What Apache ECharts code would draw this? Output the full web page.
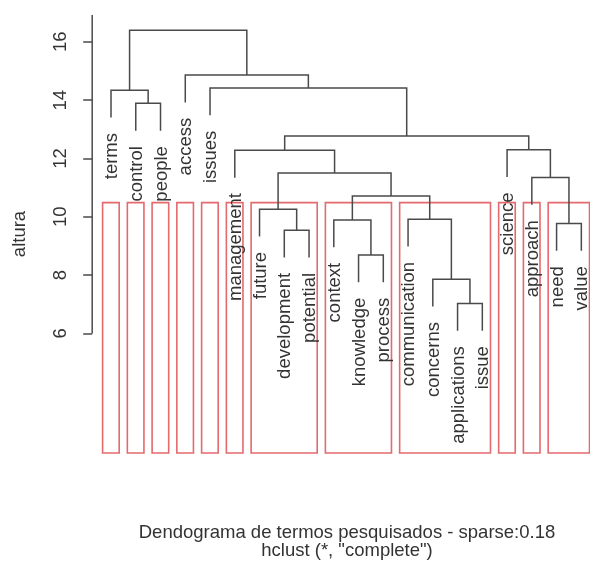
<!DOCTYPE html>
<html><head><meta charset="utf-8">
<script src="https://cdn.jsdelivr.net/npm/echarts@6/dist/echarts.min.js"></script>
<style>html,body{margin:0;padding:0;background:#fff;}#c{width:590px;height:564px;}</style>
</head><body><div id="c"></div>
<script>
// ---- data ----
const leafLabels = ['terms','control','people','access','issues','management','future','development','potential','context','knowledge','process','communication','concerns','applications','issue','science','approach','need','value'];
// hclust merge convention: negative = leaf (1-based), positive = earlier merge (1-based)
const mergeLeft   = [-15, -14, -11, -8, -19, -10, -13, -7, 6, -18, 8, -6, -17, 12, -2, -1, -5, -4, 16];
const mergeRight  = [-16,   1, -12, -9, -20,   3,   2,  4, 7,   5, 9, 11,  10, 13, -3, 15, 14, 17, 18];
const mergeHeight = [7.03, 7.86, 8.69, 9.54, 9.77, 9.89, 9.92, 10.26, 10.71, 11.35, 11.50, 12.28, 12.30, 12.77, 13.89, 14.34, 14.42, 14.86, 16.40];
const clusterCount = 12;
const yTicks = [6, 8, 10, 12, 14, 16];
const yTickLabels = ['6', '8', '10', '12', '14', '16'];
const xTitle = 'Dendograma de termos pesquisados - sparse:0.18';
const subTitle = 'hclust (*, "complete")';
const yTitle = 'altura';

// ---- layout constants ----
const FONT_FAMILY = '"Liberation Sans", Arial, Helvetica, sans-serif';
const FS = 18.5;
const X_MIN = 0.24, X_MAX = 20.35;
const Y_MIN = 1.90, Y_MAX = 16.92;
const LINE_COLOR = '#4a4a4a';
const TEXT_COLOR = '#333333';
const BOX_COLOR = '#e46a6e';

// ---- derived tree geometry ----
const n = leafLabels.length;
const leafPos = new Array(n);
let counter = 0;
(function walk(node) {
  if (node < 0) { leafPos[-node - 1] = ++counter; return; }
  walk(mergeLeft[node - 1]); walk(mergeRight[node - 1]);
})(n - 1);

const hang = 0.1 * (Math.max(...mergeHeight) - Math.min(...mergeHeight));
const mergeX = [];
const leafParentH = new Array(n);
const parentOf = {};
const nodeX = nd => nd < 0 ? leafPos[-nd - 1] : mergeX[nd - 1];
const nodeBottom = (nd, h) => nd < 0 ? h - hang : mergeHeight[nd - 1];
const segData = [];
for (let i = 0; i < n - 1; i++) {
  const l = mergeLeft[i], r = mergeRight[i], h = mergeHeight[i];
  mergeX.push((nodeX(l) + nodeX(r)) / 2);
  [l, r].forEach(c => { if (c < 0) leafParentH[-c - 1] = h; parentOf[c] = i + 1; });
  segData.push([nodeX(l), nodeBottom(l, h), nodeX(r), nodeBottom(r, h), h]);
}
const leafData = leafLabels.map((_, i) => [leafPos[i], leafParentH[i] - hang]);

// clusters (cut keeping the lowest n-k merges)
const keep = n - clusterCount;
const groups = {};
for (let i = 0; i < n; i++) {
  let node = -(i + 1);
  while (parentOf[node] !== undefined && parentOf[node] <= keep) node = parentOf[node];
  (groups[node] = groups[node] || []).push(leafPos[i]);
}
const boxTop = (mergeHeight[keep - 1] + mergeHeight[keep]) / 2;
const boxData = Object.values(groups).map(p => [Math.min(...p) - 0.34, Math.max(...p) + 0.33, boxTop]);

// width of "m" for label offset
const cv = document.createElement('canvas').getContext('2d');
cv.font = FS + 'px ' + FONT_FAMILY;
const mOffset = cv.measureText('m').width;

const chart = echarts.init(document.getElementById('c'), null, {renderer: 'canvas'});
chart.setOption({
  animation: false,
  backgroundColor: '#ffffff',
  grid: {left: 92.2, right: 0, top: 15, bottom: 111},
  xAxis: {type: 'value', min: X_MIN, max: X_MAX, show: false},
  yAxis: {
    type: 'value', min: Y_MIN, max: Y_MAX,
    axisLine: {show: false}, splitLine: {show: false},
    axisTick: {show: true, customValues: yTicks, length: 9, lineStyle: {color: LINE_COLOR, width: 1.5}},
    axisLabel: {
      customValues: yTicks, rotate: 90, margin: 22,
      formatter: v => yTickLabels[yTicks.indexOf(v)] || '',
      fontSize: FS, color: TEXT_COLOR, fontFamily: FONT_FAMILY
    },
    name: yTitle, nameLocation: 'middle', nameRotate: 90, nameGap: 63,
    nameTextStyle: {fontSize: FS, color: TEXT_COLOR, fontFamily: FONT_FAMILY}
  },
  graphic: [
    {type: 'text', x: 347, y: 533, style: {text: xTitle, font: FS + 'px ' + FONT_FAMILY, fill: TEXT_COLOR, align: 'center', verticalAlign: 'middle'}},
    {type: 'text', x: 347, y: 551, style: {text: subTitle, font: FS + 'px ' + FONT_FAMILY, fill: TEXT_COLOR, align: 'center', verticalAlign: 'middle'}}
  ],
  series: [
    {
      type: 'custom', name: 'axis', data: [[X_MIN, yTicks[0], Y_MAX]], silent: true,
      renderItem: (p, api) => {
        const a = api.coord([api.value(0), api.value(1)]);
        const b = api.coord([api.value(0), api.value(2)]);
        return {type: 'line', shape: {x1: a[0], y1: a[1], x2: b[0], y2: b[1]}, style: {stroke: LINE_COLOR, lineWidth: 1.5}};
      }
    },
    {
      type: 'custom', name: 'boxes', data: boxData, silent: true,
      renderItem: (p, api) => {
        const a = api.coord([api.value(0), api.value(2)]);
        const b = api.coord([api.value(1), Y_MIN]);
        return {type: 'rect', shape: {x: a[0], y: a[1], width: b[0] - a[0], height: b[1] - a[1]},
                style: {fill: 'none', stroke: BOX_COLOR, lineWidth: 1.6}};
      }
    },
    {
      type: 'custom', name: 'dendrogram', data: segData, silent: true,
      renderItem: (p, api) => {
        const pts = [
          api.coord([api.value(0), api.value(1)]),
          api.coord([api.value(0), api.value(4)]),
          api.coord([api.value(2), api.value(4)]),
          api.coord([api.value(2), api.value(3)])
        ];
        return {type: 'polyline', shape: {points: pts}, style: {stroke: LINE_COLOR, lineWidth: 1.5, fill: 'none'}};
      }
    },
    {
      type: 'custom', name: 'labels', data: leafData, silent: true,
      renderItem: (p, api) => {
        const c = api.coord([api.value(0), api.value(1)]);
        return {type: 'text', x: c[0] + 1, y: c[1] + mOffset, rotation: Math.PI / 2,
                style: {text: leafLabels[p.dataIndex], font: FS + 'px ' + FONT_FAMILY, fill: TEXT_COLOR, align: 'right', verticalAlign: 'middle'}};
      }
    }
  ]
});
</script>
</body></html>
